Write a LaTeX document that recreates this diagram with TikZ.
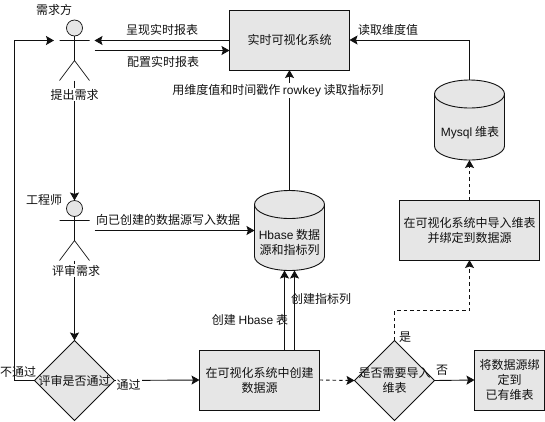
\documentclass[tikz,border=0pt]{standalone}
\usepackage{fontspec}
\setmainfont{Noto Sans CJK SC}
\newfontfamily\latf{Liberation Sans}
\usetikzlibrary{arrows.meta,shapes.geometric,calc}
\definecolor{boxgray}{HTML}{E6E6E6}
\definecolor{inkc}{HTML}{111111}
\tikzset{
  every node/.style={font=\fontsize{12}{15}\selectfont,text=inkc,inner sep=0pt,outer sep=0pt},
  boxn/.style={draw=inkc,fill=boxgray,line width=0.9pt,align=center},
  dia/.style={diamond,aspect=1,draw=inkc,fill=boxgray,line width=0.8pt,minimum width=80pt,minimum height=80pt,align=center},
  cylbox/.style={minimum width=70pt,minimum height=80pt},
  cylp/.style={draw=inkc,fill=boxgray,line width=0.9pt},
  head/.style={circle,draw=inkc,fill=boxgray,line width=0.7pt,minimum size=16pt},
  limb/.style={draw=inkc,line width=0.7pt},
  conn/.style={draw=inkc,line width=0.9pt,-{Stealth[length=8pt,width=9pt,inset=1.5pt]}},
  dconn/.style={conn,dash pattern=on 3.5pt off 3pt},
  wlbl/.style={fill=white,inner xsep=1pt,inner ysep=1pt},
}
\newcommand\cylshape[1]{%
  \begin{scope}[shift={(#1.center)}]
    \path[cylp] (-35,-26) .. controls (-35,-33.7) and (-19.3,-40) .. (0,-40)
      .. controls (19.3,-40) and (35,-33.7) .. (35,-26) -- (35,26)
      .. controls (35,33.7) and (19.3,40) .. (0,40)
      .. controls (-19.3,40) and (-35,33.7) .. (-35,26) -- cycle;
    \path[cylp,fill=none] (-35,-26) .. controls (-35,-18.3) and (-19.3,-12) .. (0,-12)
      .. controls (19.3,-12) and (35,-18.3) .. (35,-26);
  \end{scope}}
\begin{document}
\begin{tikzpicture}[x=1pt,y=-1pt]
\useasboundingbox (0,0) rectangle (545,421);
% boxes
\node[boxn,minimum width=120pt,minimum height=60pt] (vis) at (289.5,40) {实时可视化系统};
\node[boxn,minimum width=140pt,minimum height=60pt] (imp) at (469.5,230) {在可视化系统中导入维表\\并绑定到数据源};
\node[boxn,minimum width=120pt,minimum height=60pt] (src) at (259.5,380) {在可视化系统中创建\\数据源};
\node[boxn,minimum width=70pt,minimum height=60pt] (bind) at (509.5,380) {将数据源绑\\定到\\已有维表};
% cylinders
\node[cylbox] (hb) at (289.5,230.5) {};
\cylshape{hb}
\node[align=center] (hbt) at (289.5,242.5) {{\latf Hbase} 数据\\源和指标列};
\node[cylbox] (my) at (469.5,120) {};
\cylshape{my}
\node (myt) at (470,132.5) {{\latf Mysql} 维表};
% diamonds
\node[dia] (rev) at (74.5,380.5) {};
\node (revt) at (74.5,381) {评审是否通过};
\node[dia] (need) at (394.5,380.5) {};
\node[align=center] (needt) at (394.5,381) {是否需要导入\\维表};
% actors
\node[head] (a1) at (74.5,28) {};
\coordinate (a1hip) at (74.5,60.5);
\coordinate (a1l) at (59.5,40.5);
\coordinate (a1r) at (89.5,40.5);
\coordinate (a1fl) at (59.5,80.5);
\coordinate (a1fr) at (89.5,80.5);
\coordinate (a1foot) at (74.5,80.5);
\path[limb] (a1) -- (a1hip) (a1l) -- (a1r) (a1fl) -- (a1hip) -- (a1fr);
\node[head] (a2) at (74.5,208.5) {};
\coordinate (a2hip) at (74.5,240.5);
\coordinate (a2l) at (59.5,220.5);
\coordinate (a2r) at (89.5,220.5);
\coordinate (a2fl) at (59.5,260.5);
\coordinate (a2fr) at (89.5,260.5);
\coordinate (a2foot) at (74.5,260.5);
\path[limb] (a2) -- (a2hip) (a2l) -- (a2r) (a2fl) -- (a2hip) -- (a2fr);
% connector end points
\coordinate (a1in) at (54,40.5);
\coordinate (a1rin) at (94.5,40.5);
\coordinate (a1rout) at (94.5,50.5);
\coordinate (a2rout) at (94.5,230.5);
\coordinate (leftc) at (14.5,380.5);
\coordinate (hbl) at (284.5,270.5);
\coordinate (hbr) at (294.5,270.5);
% connectors
\draw[conn] (a1foot) -- (a2);
\draw[conn] (a2foot) -- (rev.north);
\draw[conn] (rev.west) -- (leftc) -- (leftc |- a1in) -- (a1in);
\draw[conn] (vis.west |- a1rin) -- (a1rin);
\draw[conn] (a1rout) -- (vis.west |- a1rout);
\draw[conn] (a2rout) -- (hb.west |- a2rout);
\draw[conn] (rev.east) -- (src.west);
\draw[conn] (hbl |- src.north) -- (hbl);
\draw[conn] (hbr |- src.north) -- (hbr);
\draw[conn] (hb.north) -- (vis.south);
\draw[conn] (my.north) |- (vis.east);
\draw[dconn] (src.east) -- (need.west);
\draw[dconn] (need.north) -- ++(0,-30) -| (imp.south);
\draw[dconn] (imp.north) -- (my.south);
\draw[conn] (need.east) -- (bind.west);
% labels
\node (t1) at (54,10) {需求方};
\node (t2) at (44,200) {工程师};
\node[wlbl] (t3) at (74.5,94.5) {提出需求};
\node[wlbl] (t4) at (76,270.5) {评审需求};
\node (t5) at (162,29.5) {呈现实时报表};
\node (t6) at (163,61.5) {配置实时报表};
\node[wlbl] (t7) at (278,90.5) {用维度值和时间戳作 {\latf rowkey} 读取指标列};
\node (t8) at (388,30) {读取维度值};
\node (t9) at (168,219.5) {向已创建的数据源写入数据};
\node (t10) at (18,372) {不通过};
\node[wlbl] (t11) at (128.5,385) {通过};
\node (t12) at (250,320) {创建 {\latf Hbase} 表};
\node (t13) at (321,299) {创建指标列};
\node (t14) at (405,337) {是};
\node (t15) at (442,370) {否};
\end{tikzpicture}
\end{document}
